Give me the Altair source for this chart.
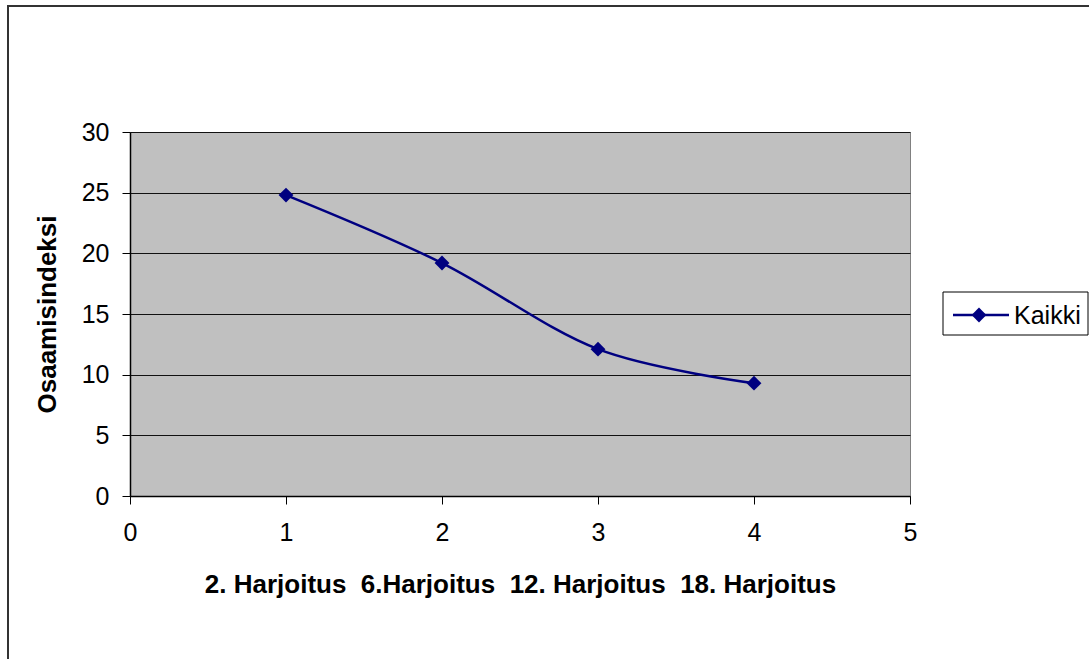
import altair as alt
import pandas as pd

# Harjoituskerrat ja osaamisindeksi
harjoitus = [1, 2, 3, 4]
kaikki = [24.8, 19.2, 12.1, 9.3]
sarja = "Kaikki"

x_ticks = [0, 1, 2, 3, 4, 5]
y_ticks = [0, 5, 10, 15, 20, 25, 30]
x_title = "\u00a0\u00a0".join(["2. Harjoitus", "6.Harjoitus", "12. Harjoitus", "18. Harjoitus"])
y_title = "Osaamisindeksi"

NAVY = "#000080"
FONT = "Liberation Sans"
W, H = 780, 364

df = pd.DataFrame({"x": harjoitus, "y": kaikki, "sarja": sarja})

x_enc = alt.X(
    "x:Q",
    scale=alt.Scale(domain=[0, 5], nice=False, zero=False),
    axis=alt.Axis(
        values=x_ticks, format="d", grid=False, title=x_title, labelFlush=False,
        labelPadding=16,
        titleX=390, titleY=88, titleBaseline="middle", titleAnchor="middle",
    ),
)
y_enc = alt.Y(
    "y:Q",
    scale=alt.Scale(domain=[0, 30], nice=False),
    axis=alt.Axis(
        values=y_ticks, format="d", grid=True, title=y_title, labelFlush=False,
        labelPadding=13,
        titleX=-83, titleY=182, titleAngle=270, titleBaseline="middle",
        titleAlign="center",
    ),
)

line = alt.Chart(df).mark_line(
    color=NAVY, strokeWidth=2.5, interpolate="cardinal"
).encode(x=x_enc, y=y_enc)

points = alt.Chart(df).mark_point(
    shape="diamond", size=220, filled=True, color=NAVY, opacity=1
).encode(x="x:Q", y="y:Q")

one = alt.Data(values=[{}])

# outer chart frame (left and top edges)
frame_left = alt.Chart(one).mark_rule(color="#333333", strokeWidth=2).encode(
    x=alt.value(-122), y=alt.value(-126), y2=alt.value(H + 200)
)
frame_top = alt.Chart(one).mark_rule(color="#333333", strokeWidth=2).encode(
    x=alt.value(-123), x2=alt.value(W + 200), y=alt.value(-126)
)

# legend box
leg_box = alt.Chart(one).mark_rect(
    fill="white", stroke="black", strokeWidth=1
).encode(
    x=alt.value(813), x2=alt.value(958), y=alt.value(160), y2=alt.value(203)
)
leg_line = alt.Chart(one).mark_rule(color=NAVY, strokeWidth=2.5).encode(
    x=alt.value(823), x2=alt.value(879), y=alt.value(183)
)
leg_pt = alt.Chart(one).mark_point(
    shape="diamond", size=220, filled=True, color=NAVY, opacity=1
).encode(x=alt.value(849), y=alt.value(183))
leg_text = alt.Chart(one).mark_text(
    text=sarja, font=FONT, fontSize=25, align="left", baseline="middle", color="black"
).encode(x=alt.value(884), y=alt.value(184))

chart = alt.layer(
    line, points, frame_left, frame_top, leg_box, leg_line, leg_pt, leg_text
).properties(
    width=W, height=H,
    autosize=alt.AutoSizeParams(type="none"),
    padding={"left": 130, "top": 132, "right": 179, "bottom": 163},
    background="white",
).configure_view(
    fill="#C0C0C0", stroke="#808080", strokeWidth=1
).configure_axis(
    labelFont=FONT, labelFontSize=25, labelColor="black",
    titleFont=FONT, titleFontSize=26, titleFontWeight="bold", titleColor="black",
    domainColor="black", domainWidth=1.5,
    tickColor="black", tickSize=8, tickWidth=1,
    gridColor="#111111", gridWidth=1,
)

chart.save("out.html", embed_options={"renderer": "svg", "actions": False})
